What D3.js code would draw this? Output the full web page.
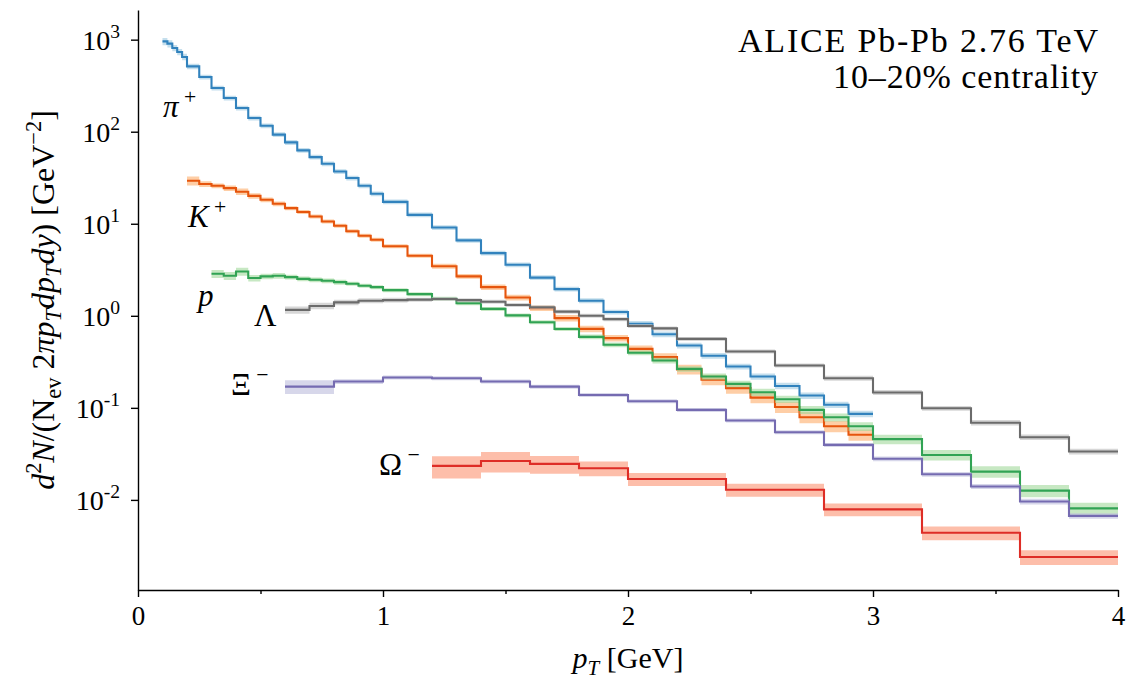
<!DOCTYPE html>
<html>
<head>
<meta charset="utf-8">
<script src="https://cdn.jsdelivr.net/npm/d3@7"></script>
<style>
    body { margin: 0; background: #fff; }
    text { font-family: "Liberation Serif", "DejaVu Serif", serif; fill: #000; }
    .axis path, .axis line { stroke: #000; stroke-width: 1.4px; }
</style>
</head>
<body>
<svg id="chart" width="1130" height="680"></svg>
<script>
// ---- data: bin edges [GeV], yields, relative errors ----
const piEdges = [0.10, 0.12, 0.14, 0.16, 0.18, 0.20, 0.25, 0.30, 0.35, 0.40, 0.45, 0.50, 0.55, 0.60, 0.65, 0.70,
    0.75, 0.80, 0.85, 0.90, 0.95, 1.0, 1.1, 1.2, 1.3, 1.4, 1.5, 1.6, 1.7, 1.8, 1.9, 2.0, 2.1, 2.2, 2.3, 2.4,
    2.5, 2.6, 2.7, 2.8, 2.9, 3.0];
const piValues = [958, 905, 811, 735, 649, 513, 393, 298, 232, 181, 141, 116, 93, 76.5, 62.7, 53, 44.9, 37,
    31.4, 25.9, 21.2, 17.3, 12.5, 9.1, 6.6, 4.8, 3.58, 2.6, 1.95, 1.46, 1.10, 0.82, 0.63, 0.476, 0.368, 0.281,
    0.219, 0.173, 0.136, 0.108, 0.086];
const piErrors = [0.09, 0.09, 0.08, 0.08, 0.08, 0.07, 0.06, 0.06, 0.06, 0.06, 0.06, 0.06, 0.06, 0.06, 0.06,
    0.06, 0.06, 0.06, 0.06, 0.06, 0.06, 0.06, 0.06, 0.06, 0.06, 0.06, 0.06, 0.06, 0.06, 0.06, 0.06, 0.07,
    0.07, 0.07, 0.07, 0.07, 0.08, 0.08, 0.08, 0.08, 0.08];

const kEdges = [0.20, 0.25, 0.30, 0.35, 0.40, 0.45, 0.50, 0.55, 0.60, 0.65, 0.70, 0.75, 0.80, 0.85, 0.90, 0.95,
    1.0, 1.1, 1.2, 1.3, 1.4, 1.5, 1.6, 1.7, 1.8, 1.9, 2.0, 2.1, 2.2, 2.3, 2.4, 2.5, 2.6, 2.7, 2.8, 2.9, 3.0];
const kValues = [29.3, 27.0, 25.9, 24.4, 22.3, 20.1, 18.2, 16.5, 14.8, 13.4, 12.0, 10.6, 9.5, 8.3, 7.4, 6.7,
    5.7, 4.49, 3.46, 2.68, 2.05, 1.58, 1.21, 0.944, 0.722, 0.572, 0.437, 0.356, 0.262, 0.202, 0.164, 0.129,
    0.102, 0.079, 0.063, 0.051];
const kErrors = [0.11, 0.07, 0.06, 0.07, 0.08, 0.07, 0.06, 0.06, 0.05, 0.05, 0.05, 0.05, 0.05, 0.05, 0.05, 0.05,
    0.05, 0.05, 0.06, 0.06, 0.07, 0.07, 0.07, 0.08, 0.08, 0.08, 0.09, 0.10, 0.12, 0.13, 0.13, 0.13, 0.14, 0.14,
    0.14, 0.14];

const pEdges = [0.30, 0.35, 0.40, 0.45, 0.50, 0.55, 0.60, 0.65, 0.70, 0.75, 0.80, 0.85, 0.90, 0.95, 1.0, 1.1,
    1.2, 1.3, 1.4, 1.5, 1.6, 1.7, 1.8, 1.9, 2.0, 2.1, 2.2, 2.3, 2.4, 2.5, 2.6, 2.7, 2.8, 2.9, 3.0, 3.2, 3.4,
    3.6, 3.8, 4.0];
const pValues = [2.86, 2.72, 3.03, 2.57, 2.68, 2.72, 2.63, 2.52, 2.46, 2.40, 2.32, 2.23, 2.12, 2.05, 1.90,
    1.72, 1.53, 1.37, 1.19, 1.01, 0.85, 0.72, 0.59, 0.484, 0.397, 0.327, 0.265, 0.219, 0.182, 0.148, 0.124,
    0.095, 0.079, 0.063, 0.0457, 0.0308, 0.0203, 0.0126, 0.0081];
const pErrors = [0.10, 0.10, 0.10, 0.08, 0.07, 0.07, 0.06, 0.06, 0.06, 0.06, 0.06, 0.05, 0.05, 0.05, 0.05,
    0.05, 0.05, 0.05, 0.05, 0.05, 0.05, 0.05, 0.06, 0.06, 0.06, 0.07, 0.07, 0.08, 0.08, 0.09, 0.09, 0.10,
    0.10, 0.11, 0.12, 0.13, 0.14, 0.15, 0.15];

const lamEdges = [0.6, 0.7, 0.8, 0.9, 1.0, 1.1, 1.2, 1.3, 1.4, 1.5, 1.6, 1.7, 1.8, 1.9, 2.0, 2.1, 2.2, 2.4,
    2.6, 2.8, 3.0, 3.2, 3.4, 3.6, 3.8, 4.0];
const lamValues = [1.16, 1.28, 1.40, 1.46, 1.48, 1.50, 1.52, 1.48, 1.42, 1.31, 1.24, 1.11, 1.0, 0.92, 0.775,
    0.73, 0.562, 0.409, 0.288, 0.21, 0.147, 0.099, 0.069, 0.048, 0.0335];
const lamErrors = [0.09, 0.08, 0.07, 0.06, 0.06, 0.05, 0.05, 0.05, 0.05, 0.05, 0.05, 0.05, 0.05, 0.05, 0.05,
    0.05, 0.05, 0.05, 0.05, 0.06, 0.06, 0.06, 0.07, 0.07, 0.07];

const xiEdges = [0.6, 0.8, 1.0, 1.2, 1.4, 1.6, 1.8, 2.0, 2.2, 2.4, 2.6, 2.8, 3.0, 3.2, 3.4, 3.6, 3.8, 4.0];
const xiValues = [0.170, 0.193, 0.214, 0.210, 0.193, 0.170, 0.138, 0.118, 0.095, 0.073, 0.0544, 0.0396,
    0.0280, 0.019, 0.014, 0.0096, 0.0067];
const xiErrors = [0.17, 0.06, 0.05, 0.05, 0.05, 0.05, 0.05, 0.05, 0.05, 0.05, 0.05, 0.05, 0.06, 0.06, 0.06,
    0.07, 0.07];

const omEdges = [1.2, 1.4, 1.6, 1.8, 2.0, 2.4, 2.8, 3.2, 3.6, 4.0];
const omValues = [0.0234, 0.0265, 0.0246, 0.0221, 0.0169, 0.0129, 0.0079, 0.0044, 0.0024];
const omErrors = [0.27, 0.25, 0.22, 0.18, 0.16, 0.16, 0.16, 0.17, 0.18];

const xTicks = [0, 1, 2, 3, 4];
const xMinorTicks = [0.5, 1.5, 2.5, 3.5];
const yExponents = [-2, -1, 0, 1, 2, 3];

const titleLines = ["ALICE Pb-Pb 2.76 TeV", "10\u201320% centrality"];

const species = [
    {edges: piEdges, values: piValues, errors: piErrors, line: "#3182bd", band: "#9ecae1"},
    {edges: kEdges, values: kValues, errors: kErrors, line: "#e6550d", band: "#fdae6b"},
    {edges: pEdges, values: pValues, errors: pErrors, line: "#31a354", band: "#a1d99b"},
    {edges: lamEdges, values: lamValues, errors: lamErrors, line: "#6b6b6b", band: "#bdbdbd"},
    {edges: xiEdges, values: xiValues, errors: xiErrors, line: "#756bb1", band: "#bcbddc"},
    {edges: omEdges, values: omValues, errors: omErrors, line: "#de2d26", band: "#fc9272"}
];

// ---- layout ----
const svg = d3.select("#chart");
const x = d3.scaleLinear().domain([0, 4]).range([138, 1118]);
const y = d3.scaleLog().domain([1.05e-3, 2.1e3]).range([590, 10]);

// write a list of {t, it, pos} parts as tspans (pos: "sup" / "sub" / undefined)
function richText(sel, parts, size) {
    let off = 0;
    parts.forEach(p => {
        const target = p.pos === "sup" ? -0.42 * size : p.pos === "sub" ? 0.22 * size : 0;
        sel.append("tspan")
            .attr("dy", target - off)
            .style("font-style", p.it ? "italic" : "normal")
            .style("font-size", (p.pos ? 0.7 * size : size) + "px")
            .text(p.t);
        off = target;
    });
}

// ---- bands and step lines ----
const stepPoints = s => s.values.flatMap((v, i) => [
    {x: s.edges[i], v: v, e: s.errors[i]},
    {x: s.edges[i + 1], v: v, e: s.errors[i]}
]);

const area = d3.area()
    .x(d => x(d.x))
    .y0(d => y(d.v * (1 - d.e)))
    .y1(d => y(d.v * (1 + d.e)));
const line = d3.line()
    .x(d => x(d.x))
    .y(d => y(d.v));

const plot = svg.append("g");
species.forEach(s => {
    const pts = stepPoints(s);
    plot.append("path")
        .datum(pts)
        .attr("d", area)
        .style("fill", s.band)
        .style("fill-opacity", 0.6)
        .style("stroke", "none");
    plot.append("path")
        .datum(pts)
        .attr("d", line)
        .style("fill", "none")
        .style("stroke", s.line)
        .style("stroke-width", 2.1);
});

// ---- axes ----
svg.append("g")
    .attr("class", "axis")
    .attr("transform", "translate(0,590)")
    .call(d3.axisBottom(x).tickValues(xTicks).tickSize(7).tickSizeOuter(0).tickPadding(9)
        .tickFormat(d3.format("d")))
    .call(g => g.selectAll("text").style("font-size", "27px"));

svg.append("g")
    .attr("class", "axis")
    .attr("transform", "translate(0,590)")
    .call(d3.axisBottom(x).tickValues(xMinorTicks).tickSize(4).tickSizeOuter(0).tickFormat(""))
    .call(g => g.select(".domain").remove());

svg.append("g")
    .attr("class", "axis")
    .attr("transform", "translate(138,0)")
    .call(d3.axisLeft(y).tickValues(yExponents.map(e => Math.pow(10, e))).tickSize(7).tickSizeOuter(0)
        .tickFormat(""));

yExponents.forEach(e => {
    const t = svg.append("text")
        .attr("x", 120)
        .attr("y", y(Math.pow(10, e)) + 10)
        .attr("text-anchor", "end");
    richText(t, [{t: "10"}, {t: String(e), pos: "sup"}], 28);
});

// ---- axis titles ----
const xl = svg.append("text")
    .attr("x", 628)
    .attr("y", 668)
    .attr("text-anchor", "middle");
richText(xl, [{t: "p", it: true}, {t: "T", it: true, pos: "sub"}, {t: " [GeV]"}], 30);

const yl = svg.append("text")
    .attr("transform", "translate(54,300) rotate(-90)")
    .attr("text-anchor", "middle");
richText(yl, [
    {t: "d", it: true}, {t: "2", pos: "sup"}, {t: "N", it: true}, {t: "/(N"},
    {t: "ev", pos: "sub"}, {t: " 2"}, {t: "\u03c0p", it: true}, {t: "T", it: true, pos: "sub"},
    {t: "dp", it: true}, {t: "T", it: true, pos: "sub"}, {t: "dy", it: true}, {t: ") [GeV"},
    {t: "\u22122", pos: "sup"}, {t: "]"}
], 32);

// ---- species labels ----
const labels = [
    {x: 163, y: 117, parts: [{t: "\u03c0", it: true}, {t: " +", pos: "sup"}]},
    {x: 188, y: 227, parts: [{t: "K", it: true}, {t: " +", pos: "sup"}]},
    {x: 198, y: 306, parts: [{t: "p", it: true}]},
    {x: 254, y: 326, parts: [{t: "\u039b"}]},
    {x: 231, y: 395, parts: [{t: "\u039e"}, {t: " \u2212", pos: "sup"}]},
    {x: 379, y: 475, parts: [{t: "\u03a9"}, {t: " \u2212", pos: "sup"}]}
];
labels.forEach(l => {
    const t = svg.append("text").attr("x", l.x).attr("y", l.y);
    richText(t, l.parts, 31);
});

// ---- title ----
titleLines.forEach((s, i) => {
    svg.append("text")
        .attr("x", 1098)
        .attr("y", 52 + i * 36)
        .attr("text-anchor", "end")
        .attr("textLength", i === 0 ? 360 : 265)
        .attr("lengthAdjust", "spacing")
        .style("font-size", "34px")
        .text(s);
});
</script>
</body>
</html>
